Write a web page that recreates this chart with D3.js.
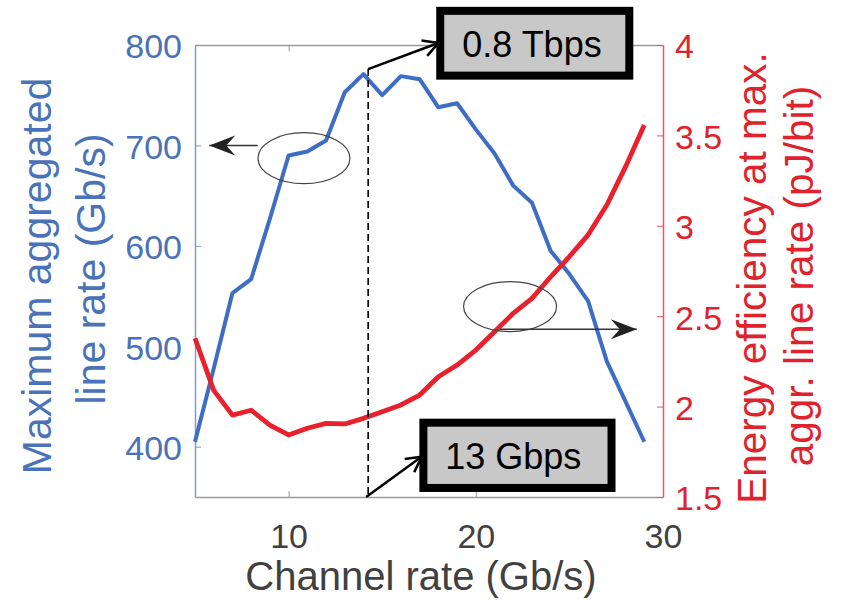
<!DOCTYPE html>
<html>
<head>
<meta charset="utf-8">
<script src="https://cdn.jsdelivr.net/npm/d3@7"></script>
<style>
  body { margin: 0; background: #fff; }
  text { font-family: "Liberation Sans", Arial, sans-serif; }
</style>
</head>
<body>
<div id="chart"></div>
<script>
// channel rate (Gb/s)
const rates = [5, 6, 7, 8, 9, 10, 11, 12, 13, 14, 15, 16, 17, 18, 19, 20, 21, 22, 23, 24, 25, 26, 27, 28, 29];
// maximum aggregated line rate (Gb/s)
const lineRate = [405, 478, 553, 567, 627, 690, 694, 705, 753, 771, 750, 769, 766, 738, 742, 716, 692, 660, 643, 595, 572, 545, 485, 445, 405];
// energy efficiency at max. aggr. line rate (pJ/bit)
const energy = [2.378, 2.09, 1.953, 1.98, 1.898, 1.843, 1.88, 1.907, 1.904, 1.935, 1.972, 2.009, 2.064, 2.165, 2.23, 2.313, 2.414, 2.516, 2.599, 2.718, 2.83, 2.95, 3.115, 3.327, 3.557];

const xTicks = [10, 20, 30];
const leftTicks = [400, 500, 600, 700, 800];
const rightTicks = [1.5, 2, 2.5, 3, 3.5, 4];

const blue = "#3d6dc4", red = "#e8212c";

var width = 856, height = 606;
var plot = { left: 195, right: 663, top: 45, bottom: 497 };

var svg = d3.select("#chart").append("svg")
  .attr("width", width).attr("height", height);

var x = d3.scaleLinear().domain([5, 30]).range([plot.left, plot.right]);
var yL = d3.scaleLinear().domain([350, 800]).range([plot.bottom, plot.top]);
var yR = d3.scaleLinear().domain([1.5, 4]).range([plot.bottom, plot.top]);

// axes
var gx = svg.append("g")
  .attr("transform", "translate(0," + plot.bottom + ")")
  .call(d3.axisBottom(x).tickValues(xTicks).tickSize(-6).tickSizeOuter(0).tickPadding(27));
var gxTop = svg.append("g")
  .attr("transform", "translate(0," + plot.top + ")")
  .call(d3.axisTop(x).tickValues([10, 20]).tickSize(-6).tickSizeOuter(0).tickFormat(""));
[gx, gxTop].forEach(g => {
  g.select(".domain").attr("stroke", "#9a9a9a").attr("stroke-width", 1.5);
  g.selectAll(".tick line").attr("stroke", "#9a9a9a");
});
gx.selectAll("text").attr("fill", "#404040").style("font-size", "34px");

var gl = svg.append("g")
  .attr("transform", "translate(" + plot.left + ",0)")
  .call(d3.axisLeft(yL).tickValues(leftTicks).tickSize(-6).tickSizeOuter(0).tickPadding(13));
gl.select(".domain").attr("stroke", "#7f9bd0").attr("stroke-width", 1.5);
gl.selectAll(".tick line").attr("stroke", "#7f9bd0");
gl.selectAll("text").attr("fill", "#4a72b8").attr("dy", "0.38em").style("font-size", "34px");

var gr = svg.append("g")
  .attr("transform", "translate(" + plot.right + ",0)")
  .call(d3.axisRight(yR).tickValues(rightTicks).tickSize(-6).tickSizeOuter(0).tickPadding(12)
    .tickFormat(d3.format("")));
gr.select(".domain").attr("stroke", "#ee5560").attr("stroke-width", 1.5);
gr.selectAll(".tick line").attr("stroke", "#ee5560");
gr.selectAll("text").attr("fill", "#e0222c").attr("dy", "0.38em").style("font-size", "34px");

// axis titles
svg.append("text")
  .attr("x", 421).attr("y", 590)
  .attr("text-anchor", "middle").attr("fill", "#404040").style("font-size", "40px")
  .text("Channel rate (Gb/s)");

[["Maximum aggregated", 51, 276], ["line rate (Gb/s)", 105, 269]].forEach(([t, bx, cy]) => {
  svg.append("text")
    .attr("transform", "translate(" + bx + "," + cy + ") rotate(-90)")
    .attr("text-anchor", "middle").attr("fill", "#4a72b8").style("font-size", "41px")
    .text(t);
});
[["Energy efficiency at max.", 766, 278], ["aggr. line rate (pJ/bit)", 813, 276]].forEach(([t, bx, cy]) => {
  svg.append("text")
    .attr("transform", "translate(" + bx + "," + cy + ") rotate(-90)")
    .attr("text-anchor", "middle").attr("fill", "#e0222c").style("font-size", "40.5px")
    .text(t);
});

// lines
var blueLine = d3.line().x((d, i) => x(rates[i])).y(d => yL(d));
var redLine = d3.line().x((d, i) => x(rates[i])).y(d => yR(d));

svg.append("path").datum(lineRate)
  .attr("d", blueLine).attr("fill", "none")
  .attr("stroke", blue).attr("stroke-width", 4).attr("stroke-linejoin", "round");
svg.append("path").datum(energy)
  .attr("d", redLine).attr("fill", "none")
  .attr("stroke", red).attr("stroke-width", 4.8).attr("stroke-linejoin", "round");

// annotations
const peakRate = 14.25, peakTop = 776;

svg.append("line")
  .attr("x1", x(peakRate)).attr("x2", x(peakRate))
  .attr("y1", yL(peakTop)).attr("y2", plot.bottom)
  .attr("stroke", "#000").attr("stroke-width", 1.6).attr("stroke-dasharray", "7,4");

function openArrow(x1, y1, x2, y2) {
  svg.append("line").attr("x1", x1).attr("y1", y1).attr("x2", x2).attr("y2", y2)
    .attr("stroke", "#000").attr("stroke-width", 2.5);
  var a = Math.atan2(y2 - y1, x2 - x1), L = 17, s = 0.5;
  var p = [
    [x2 - L * Math.cos(a - s), y2 - L * Math.sin(a - s)],
    [x2, y2],
    [x2 - L * Math.cos(a + s), y2 - L * Math.sin(a + s)]
  ];
  svg.append("path").attr("d", d3.line()(p)).attr("fill", "none")
    .attr("stroke", "#000").attr("stroke-width", 2.5);
}

function filledArrow(x1, y1, x2, y2) {
  svg.append("line").attr("x1", x1).attr("y1", y1).attr("x2", x2).attr("y2", y2)
    .attr("stroke", "#333").attr("stroke-width", 1.5);
  var a = Math.atan2(y2 - y1, x2 - x1) * 180 / Math.PI;
  svg.append("path")
    .attr("d", "M0,0 L-26,-10 L-17,0 L-26,10 Z")
    .attr("transform", "translate(" + x2 + "," + y2 + ") rotate(" + a + ")")
    .attr("fill", "#222");
}

function textBox(x0, x1, v0, v1, tx, tv, label) {
  svg.append("rect")
    .attr("x", x(x0)).attr("y", yL(v0))
    .attr("width", x(x1) - x(x0)).attr("height", yL(v1) - yL(v0))
    .attr("fill", "#c8c8c8").attr("stroke", "#000").attr("stroke-width", 8);
  svg.append("text")
    .attr("x", x(tx)).attr("y", yL(tv))
    .attr("text-anchor", "middle").attr("fill", "#000").style("font-size", "36px")
    .text(label);
}

openArrow(x(peakRate), yL(peakTop), x(18), yL(802));
textBox(18.1, 28.2, 834, 769.5, 23, 788.5, "0.8 Tbps");

openArrow(x(peakRate) - 2, plot.bottom, x(17.1), yL(390));
textBox(17.2, 27.25, 424, 359, 22, 377.7, "13 Gbps");

// ellipses with pointers
svg.append("ellipse")
  .attr("cx", x(10.82)).attr("cy", yL(687.3)).attr("rx", 46).attr("ry", 25.5)
  .attr("fill", "none").attr("stroke", "#444").attr("stroke-width", 1.2);
filledArrow(x(8.35), yL(700), x(5.76), yL(700));

svg.append("ellipse")
  .attr("cx", x(21.83)).attr("cy", yR(2.553)).attr("rx", 46.5).attr("ry", 25)
  .attr("fill", "none").attr("stroke", "#444").attr("stroke-width", 1.2);
filledArrow(x(21.29), yR(2.428), x(28.6), yR(2.428));
</script>
</body>
</html>
